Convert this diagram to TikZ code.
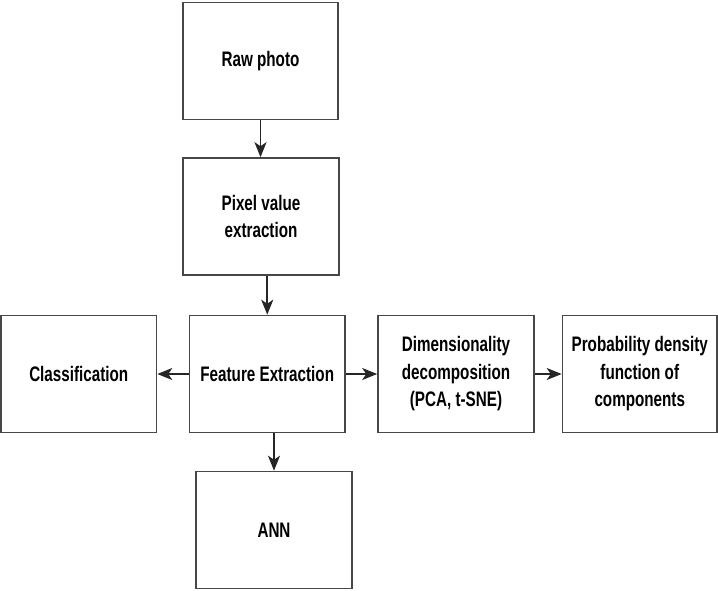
\documentclass[tikz,border=0pt]{standalone}
\usepackage{fontspec}
\newfontfamily\boxfont[FakeStretch=0.725]{Liberation Sans}
\usetikzlibrary{arrows.meta}

\begin{document}
\begin{tikzpicture}[x=1pt, y=-1pt,
  box/.style={draw=black!72, line width=1.6pt, fill=white, inner sep=0pt,
    minimum width=#1, minimum height=117pt, align=center,
    font=\boxfont\bfseries\fontsize{21}{27.5}\selectfont},
  box/.default=156pt,
  flow/.style={draw=black!85, line width=1.6pt,
    -{Stealth[length=15pt, width=12pt, inset=4pt]}}
]
\useasboundingbox (0,0) rectangle (718,590);

\node[box=155pt] (raw)  at (260.5, 61)   {Raw photo};
\node[box]       (pix)  at (261, 216.5)  {Pixel value\\extraction};
\node[box=155.5pt] (feat) at (267.25, 374) {Feature Extraction};
\node[box=155.5pt] (cls)  at (78.75, 374)  {Classification};
\node[box]       (dim)  at (456, 374)    {Dimensionality\\decomposition\\(PCA, t-SNE)};
\node[box=154.5pt] (prob) at (639.75, 374) {Probability density\\function of\\components};
\node[box]       (ann)  at (274, 530)    {ANN};

\draw[flow] (raw.south) -- (raw.south |- pix.north);
\draw[flow] (pix.south -| feat.north) -- (feat.north);
\draw[flow] (feat.west) -- (cls.east);
\draw[flow] (feat.east) -- (dim.west);
\draw[flow] (dim.east) -- (prob.west);
\draw[flow] (feat.south -| ann.north) -- (ann.north);
\end{tikzpicture}
\end{document}
